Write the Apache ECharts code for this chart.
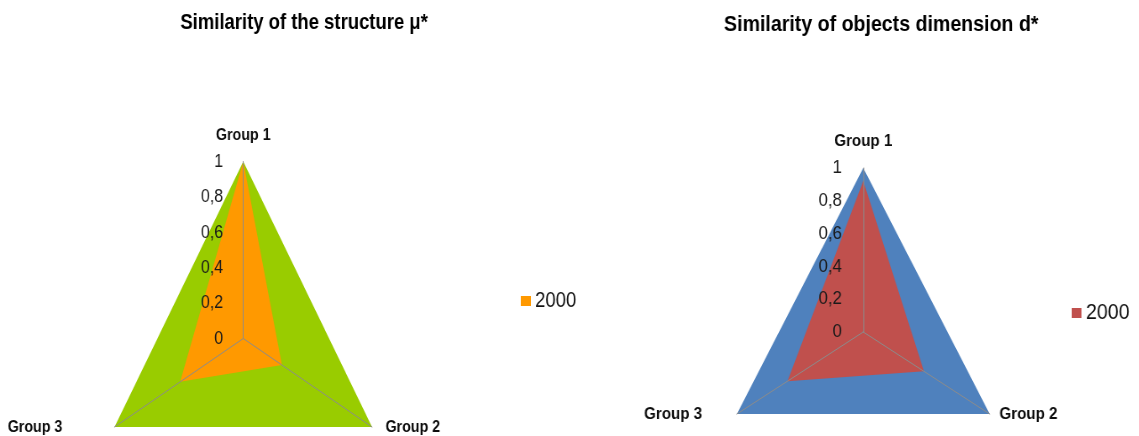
<!DOCTYPE html>
<html>
<head>
<meta charset="utf-8">
<script src="https://cdn.jsdelivr.net/npm/echarts@6/dist/echarts.min.js"></script>
<style>
  html, body { margin: 0; padding: 0; background: #ffffff; }
  body { width: 1139px; height: 436px; position: relative; overflow: hidden; }
  .panel { position: absolute; top: 0; height: 436px; transform-origin: 0 0; }
  #structure { left: 0; width: 714px; transform: scaleX(0.84); }
  #dimension { left: 600px; width: 606px; transform: scaleX(0.89); }
</style>
</head>
<body>
<div id="structure" class="panel"></div>
<div id="dimension" class="panel"></div>
<script>
// Categories (clockwise from the top) and values for the two radar charts
const categories = ['Group 1', 'Group 2', 'Group 3'];
const seriesName = '2000';
const fullLevel = [1, 1, 1];
const structureValues = [1, 0.30, 0.49];
const dimensionValues = [0.92, 0.48, 0.60];
const axisMin = 0;
const axisMax = 1;
const tickCount = 5;

const FONT = 'Liberation Sans, Arial, sans-serif';

// ECharts places radar indicators counter-clockwise, so walk the
// categories as 0, 2, 1 to get Group 2 on the lower right.
const order = [0, 2, 1];

function formatTick(v) {
  return String(Number(v.toFixed(1))).replace('.', ',');
}

function buildOption(cfg) {
  const indicator = order.map(function (i, k) {
    const ind = { name: categories[i], min: axisMin, max: axisMax };
    Object.assign(ind, cfg.nameLayout[i]);
    if (k === 0) {
      ind.axisLabel = { show: true };
    }
    return ind;
  });
  const pick = function (arr) { return order.map(function (i) { return arr[i]; }); };
  return {
    animation: false,
    backgroundColor: '#ffffff',
    title: {
      text: cfg.title,
      left: cfg.titleX,
      top: cfg.titleTop,
      textAlign: 'center',
      textStyle: { fontFamily: FONT, fontSize: cfg.titleSize, fontWeight: 'bold', color: '#000000' }
    },
    legend: {
      data: [seriesName],
      left: cfg.legendX,
      top: cfg.legendTop,
      icon: 'rect',
      itemWidth: cfg.legendIconW,
      itemHeight: 10,
      selectedMode: false,
      textStyle: { fontFamily: FONT, fontSize: 22, color: '#111111' }
    },
    radar: {
      z: 3,
      center: cfg.center,
      radius: cfg.radius,
      startAngle: 90,
      shape: 'polygon',
      splitNumber: tickCount,
      indicator: indicator,
      axisName: { fontFamily: FONT, fontSize: 17, fontWeight: 'bold', color: '#0d0d0d' },
      axisLine: { lineStyle: { color: '#8c8c8c', width: 1 } },
      axisTick: { show: false },
      axisLabel: {
        show: false,
        margin: 24,
        fontFamily: FONT,
        fontSize: 19,
        color: '#1a1a1a',
        formatter: formatTick
      },
      splitLine: { show: false },
      splitArea: { show: false }
    },
    series: [
      {
        type: 'radar',
        name: 'Full similarity',
        symbol: 'none',
        itemStyle: { color: cfg.fullColor },
        lineStyle: { width: 0 },
        areaStyle: { color: cfg.fullColor, opacity: 1 },
        data: [{ name: 'Full similarity', value: pick(fullLevel) }]
      },
      {
        type: 'radar',
        name: seriesName,
        symbol: 'none',
        itemStyle: { color: cfg.color },
        lineStyle: { width: 0 },
        areaStyle: { color: cfg.color, opacity: 1 },
        data: [{ name: seriesName, value: pick(cfg.values) }]
      }
    ]
  };
}

const structureChart = echarts.init(document.getElementById('structure'), null, { renderer: 'canvas' });
structureChart.setOption(buildOption({
  title: 'Similarity of the structure \u03bc*',
  titleX: 357, titleTop: 7, titleSize: 22,
  legendX: 615, legendTop: 285, legendIconW: 12,
  center: [289.6, 338.5], radius: 177,
  fullColor: '#99cc00', color: '#ff9900',
  values: structureValues,
  nameLayout: [
    { nameGap: 18 },
    { nameGap: 0, nameTextStyle: { padding: [0, 0, 7, 16] } },
    { nameGap: 0, nameTextStyle: { padding: [0, 62, 14, 0] } }
  ]
}));

const dimensionChart = echarts.init(document.getElementById('dimension'), null, { renderer: 'canvas' });
dimensionChart.setOption(buildOption({
  title: 'Similarity of objects dimension d*',
  titleX: 311, titleTop: 9, titleSize: 22,
  legendX: 525, legendTop: 297, legendIconW: 11,
  center: [295.8, 332], radius: 164,
  fullColor: '#4f81bd', color: '#c0504d',
  values: dimensionValues,
  nameLayout: [
    { nameGap: 18 },
    { nameGap: 0, nameTextStyle: { padding: [0, 0, 2, 11] } },
    { nameGap: 0, nameTextStyle: { padding: [0, 39, 2, 0] } }
  ]
}));
</script>
</body>
</html>
